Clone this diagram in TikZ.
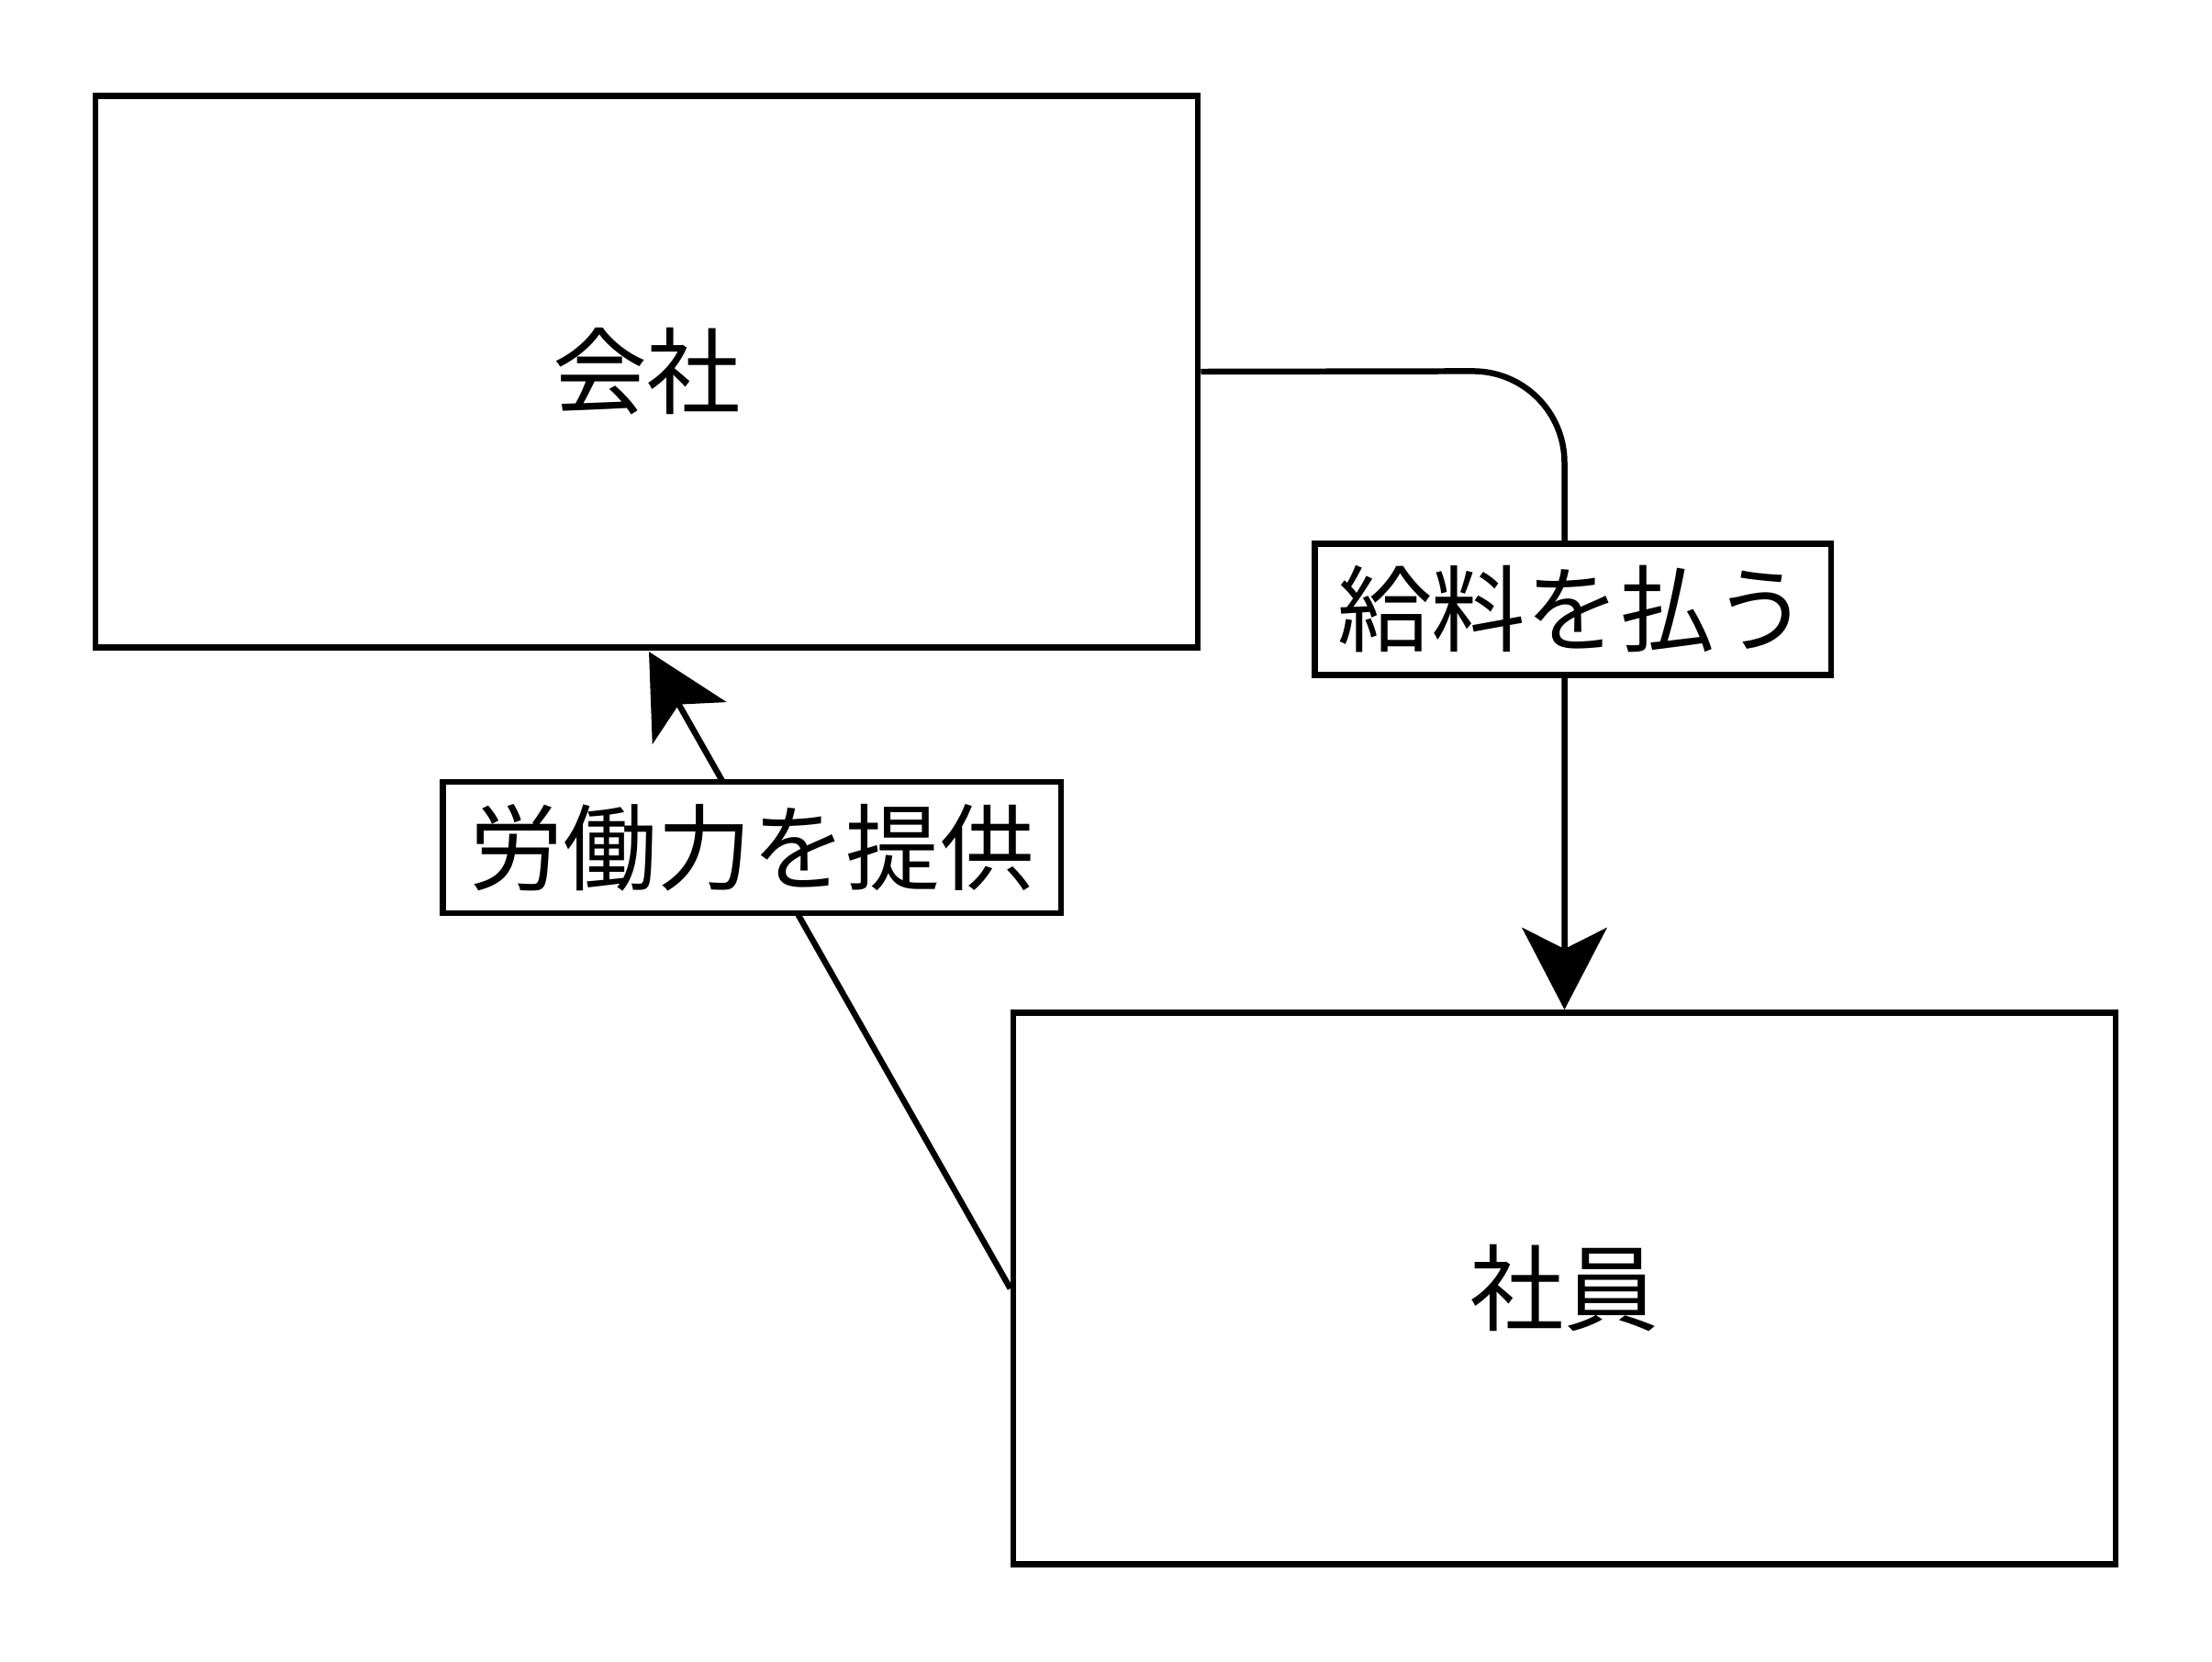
\documentclass[tikz,border=0pt]{standalone}
\usepackage{fontspec}
\setmainfont{Noto Sans CJK JP}
\usetikzlibrary{arrows.meta}
\begin{document}
\begin{tikzpicture}[x=0.01cm,y=-0.01cm,
  box/.style={draw,line width=1.2pt,minimum width=7.81cm,minimum height=3.91cm,font=\fontsize{19}{22}\selectfont},
  lbl/.style={draw,line width=1.2pt,fill=white,inner sep=2pt,font=\fontsize{19}{22}\selectfont},
  conn/.style={line width=1.2pt,-{Stealth[length=0.58cm,width=0.6cm,inset=0.15cm]}}]
\useasboundingbox (0,0) rectangle (1568,1178);
\node[box] (a) at (458.5,263.5) {会社};
\node[box] (b) at (1109,913.5) {社員};
\coordinate (c) at (1109,263);
\draw[conn,rounded corners=0.65cm] (a.east) -- (c) -- (b.north);
\node[lbl,minimum width=3.66cm,minimum height=0.93cm] (l1) at (1115,432) {給料を払う};
\draw[conn] (b.west) -- (460,462) coordinate (t);
\node[lbl,minimum width=4.38cm,minimum height=0.93cm] (l2) at (533,601) {労働力を提供};
\end{tikzpicture}
\end{document}
